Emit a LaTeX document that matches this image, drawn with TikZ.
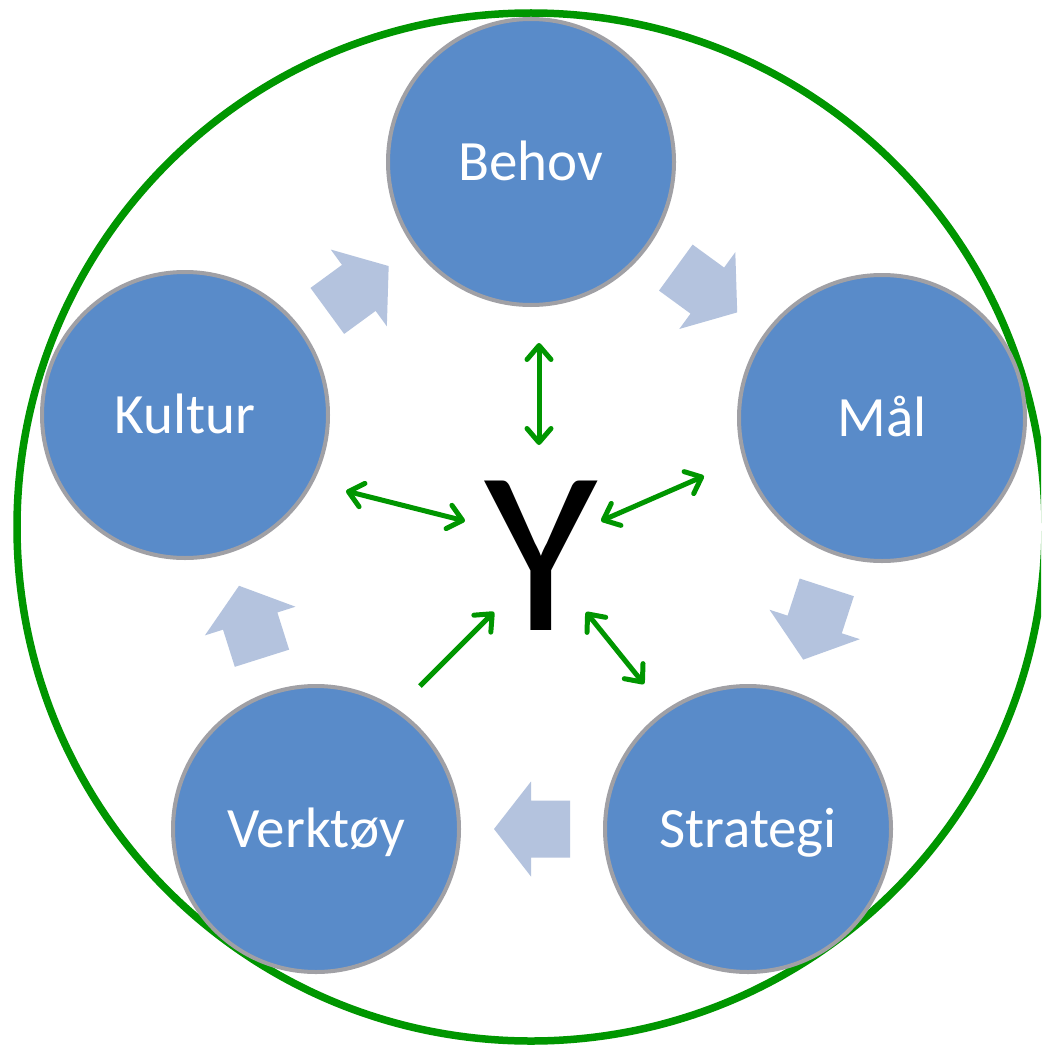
\documentclass[tikz,border=0pt]{standalone}
\usepackage{fontspec}
\setmainfont{Carlito}
\usetikzlibrary{arrows.meta}

\definecolor{fasefill}{RGB}{89,139,201}
\definecolor{fasekant}{RGB}{160,160,165}
\definecolor{pilfyll}{RGB}{180,195,222}
\definecolor{gronn}{RGB}{0,150,0}

\tikzset{
  fase/.style={circle, minimum size=286pt, inner sep=0pt, fill=fasefill,
    draw=fasekant, line width=4pt, text=white,
    font=\fontsize{57}{57}\selectfont, text height=36pt, text depth=0pt},
  link/.style={draw=gronn, line width=5pt},
  ramme/.style={draw=gronn, line width=7.5pt},
  pics/blokkpil/.style={code={
    \fill[pilfyll] (-38,-28.5) -- (1,-28.5) -- (1,-47.5) -- (38,0)
      -- (1,47.5) -- (1,28.5) -- (-38,28.5) -- cycle;}}
}

\begin{document}
\begin{tikzpicture}[>={Straight Barb[length=14pt,width=24pt,line width=5pt,round]},
    x=1pt,y=-1pt]
  \useasboundingbox (0,0) rectangle (1041,1046);
  \fill[white] (0,0) rectangle (1041,1046);
  \clip (0,0) rectangle (1041,1046);

  % Outer ring
  \draw[ramme] (531,527) circle (514);

  % Circles
  \foreach \navn/\tekst/\x/\y in {behov/Behov/531/162, maal/Mål/882/418,
      strategi/Strategi/748/829, verktoy/Verktøy/316/829, kultur/Kultur/185/415}
    \node[fase] (\navn) at (\x,\y) {\tekst};

  % Cycle arrows
  \foreach \a/\b in {kultur/behov, behov/maal, maal/strategi,
      strategi/verktoy, verktoy/kultur}
    \path (\a) -- (\b) pic[midway, sloped, allow upside down] {blokkpil};

  % Centre
  \node[font=\fontsize{233}{233}\selectfont, anchor=base, inner sep=0pt]
    (ypsilon) at (541,630) {Y};

  \coordinate (behov-a) at (539,343);    \coordinate (behov-b) at (539,445);
  \coordinate (kultur-a) at (346,491);   \coordinate (kultur-b) at (465,521);
  \coordinate (maal-a) at (704,476);     \coordinate (maal-b) at (601,521);
  \coordinate (strategi-a) at (644,684); \coordinate (strategi-b) at (586,612);
  \coordinate (verktoy-a) at (420,686);  \coordinate (verktoy-b) at (494,612);

  \foreach \fra/\til in {behov-a/behov-b, kultur-a/kultur-b,
      maal-a/maal-b, strategi-a/strategi-b}
    \draw[link,<->] (\fra) -- (\til);
  \draw[link,->] (verktoy-a) -- (verktoy-b);
\end{tikzpicture}
\end{document}
